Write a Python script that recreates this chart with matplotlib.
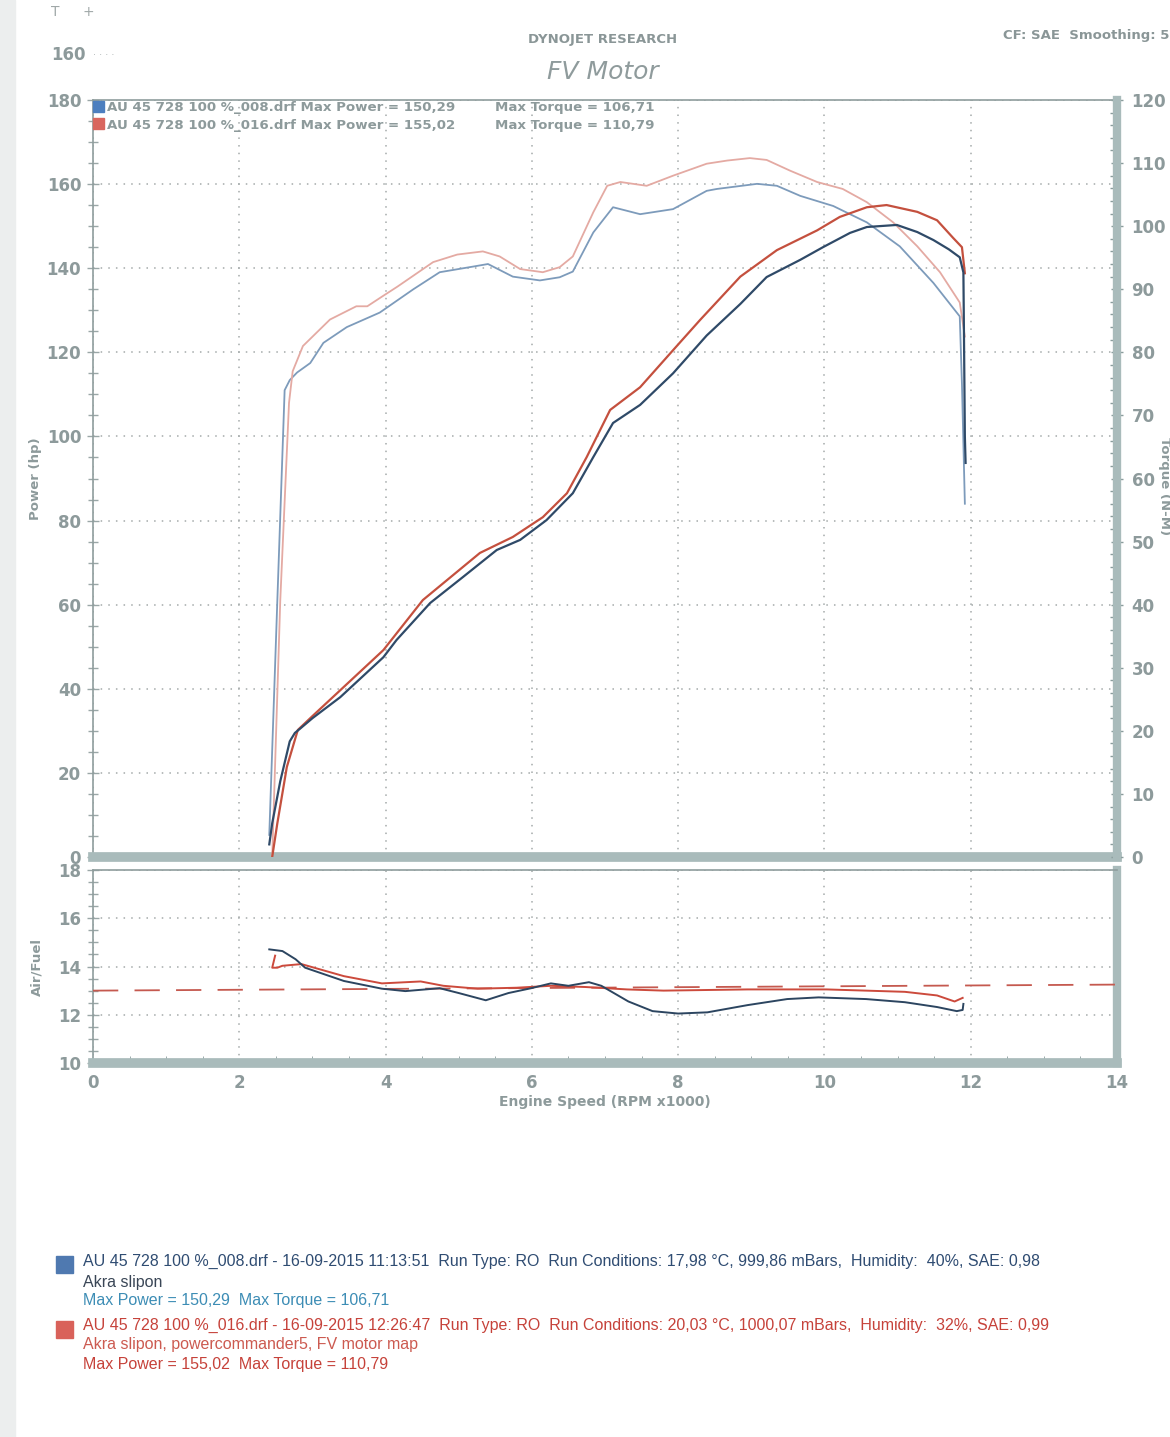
import matplotlib
matplotlib.use("Agg")
import matplotlib.pyplot as plt
from matplotlib.patches import Rectangle
from matplotlib.ticker import MultipleLocator

# ---------------- data ----------------
blue_pw_rpm = [2.41, 2.45, 2.56, 2.69, 2.76, 2.83, 3.0, 3.38, 3.97, 4.15, 4.61, 5.06, 5.52, 5.84, 6.2,
               6.56, 6.84, 7.11, 7.48, 7.93, 8.39, 8.85, 9.21, 9.67, 9.98, 10.35, 10.58, 10.99,
               11.27, 11.49, 11.7, 11.85, 11.9, 11.91, 11.92, 11.93]
blue_pw = [3, 8, 18, 27.5, 29.5, 30.5, 33, 38, 47.5, 51.6, 60.4, 66.6, 73, 75.4, 80.1,
           86.5, 95.1, 103.2, 107.5, 115, 124, 131.5, 137.9, 142, 145, 148.4, 149.8, 150.29,
           148.6, 146.7, 144.5, 142.6, 139, 120, 100, 93.7]

red_pw_rpm = [2.45, 2.52, 2.65, 2.8, 3.0, 3.34, 3.97, 4.51, 5.29, 5.74, 6.15, 6.48, 6.75, 7.07,
              7.48, 7.93, 8.30, 8.85, 9.35, 9.9, 10.21, 10.58, 10.85, 11.27, 11.54, 11.76,
              11.88, 11.92]
red_pw = [0, 8, 21.4, 30.2, 33.5, 39, 49.2, 61.1, 72.3, 76.1, 80.8, 86.5, 95.1, 106.3,
          111.7, 120.5, 127.7, 138, 144.3, 149, 152.2, 154.5, 155.02, 153.4, 151.4, 147.2,
          145, 138.8]

blue_tq_rpm = [2.41, 2.52, 2.62, 2.69, 2.79, 2.97, 3.15, 3.47, 3.92, 4.38, 4.74, 5.2, 5.4, 5.74,
               6.11, 6.38, 6.56, 6.84, 7.11, 7.48, 7.93, 8.39, 8.53, 9.08, 9.35, 9.67, 10.12,
               10.58, 11.03, 11.49, 11.85, 11.88, 11.92]
blue_tq = [3.5, 40.6, 74, 75.6, 76.8, 78.3, 81.5, 84, 86.3, 90, 92.7, 93.6, 94, 92,
           91.4, 91.9, 92.8, 99, 103, 101.9, 102.7, 105.6, 105.9, 106.71, 106.4, 104.8, 103.2,
           100.6, 96.8, 91, 85.7, 75, 56]

red_tq_rpm = [2.45, 2.56, 2.68, 2.73, 2.87, 3.24, 3.6, 3.75, 3.96, 4.16, 4.65, 4.98, 5.33, 5.56,
              5.84, 6.15, 6.38, 6.56, 6.84, 7.03, 7.21, 7.57, 7.93, 8.39, 8.67, 8.98, 9.21,
              9.53, 9.9, 10.25, 10.58, 10.94, 11.27, 11.58, 11.85, 11.92]
red_tq = [0, 40.6, 72, 77, 81, 85.2, 87.3, 87.3, 88.9, 90.4, 94.3, 95.5, 96, 95.2,
          93.2, 92.7, 93.5, 95.2, 102.2, 106.4, 107, 106.4, 108, 109.9, 110.4, 110.79, 110.5,
          108.8, 107, 105.9, 103.8, 100.6, 96.8, 92.7, 87.9, 82.5]

blue_af_rpm = [2.41, 2.59, 2.77, 2.9, 3.43, 3.95, 4.27, 4.74, 5.0, 5.37, 5.68, 5.99, 6.26, 6.5,
               6.78, 6.95, 7.32, 7.65, 8.0, 8.4, 8.95, 9.49, 9.92, 10.57, 11.1, 11.54, 11.81,
               11.89, 11.9]
blue_af = [14.71, 14.64, 14.3, 13.95, 13.4, 13.08, 12.98, 13.1, 12.9, 12.6, 12.9, 13.1, 13.3, 13.2,
           13.35, 13.2, 12.55, 12.15, 12.05, 12.1, 12.4, 12.65, 12.72, 12.65, 12.52, 12.32, 12.15,
           12.2, 12.45]

red_af_rpm = [2.49, 2.47, 2.45, 2.52, 2.59, 2.85, 3.43, 3.95, 4.48, 4.79, 5.26, 5.79, 6.26, 6.73,
              7.3, 7.8, 8.95, 10.03, 11.1, 11.54, 11.78, 11.89]
red_af = [14.45, 14.2, 13.95, 13.95, 14.03, 14.1, 13.6, 13.3, 13.38, 13.2, 13.08, 13.12, 13.2, 13.15,
          13.05, 13.0, 13.05, 13.05, 12.95, 12.8, 12.55, 12.7]

target_af_rpm = [0, 14]
target_af = [13.0, 13.25]

power_ticks = list(range(0, 181, 20))
torque_ticks = list(range(0, 121, 10))
af_ticks = [10, 12, 14, 16, 18]
rpm_ticks = list(range(0, 15, 2))

# ---------------- style ----------------
W, H = 1170, 1437
GRAY = "#9aa7a7"
TXT = "#8d9a9b"
BAND = "#a9bbbb"
C_BPW = "#2f4a68"
C_BTQ = "#7d9bbb"
C_RPW = "#c4503e"
C_RTQ = "#e4aaa3"

def fx(px):
    return px / W

def fy(py):
    return 1 - py / H

fig = plt.figure(figsize=(W / 100, H / 100), dpi=100)
fig.patch.set_facecolor("white")

# scan edge
fig.patches.append(Rectangle((0, 0), fx(15), 1, transform=fig.transFigure,
                             color="#eceeee", zorder=0))

AX_L, AX_R = 93, 1117
AX_W = AX_R - AX_L

# ---------------- main chart ----------------
ax = fig.add_axes([fx(AX_L), fy(857), fx(AX_R) - fx(AX_L), fy(100) - fy(857)])
ax.set_xlim(0, 14)
ax.set_ylim(0, 180)
ax.set_xticks(rpm_ticks)
ax.set_yticks(power_ticks)
ax.yaxis.set_minor_locator(MultipleLocator(5))
ax.tick_params(axis="x", length=0, labelbottom=False)
ax.tick_params(axis="y", which="major", direction="inout", length=9, width=1, color=GRAY,
               labelsize=12, labelcolor=TXT, pad=4)
ax.tick_params(axis="y", which="minor", direction="inout", length=7, width=1, color=GRAY)
for lab in ax.get_yticklabels():
    lab.set_fontweight("bold")
ax.grid(True, which="major", linestyle=(0, (1, 4)), color="#a4aaaa", lw=1.1)
ax.spines["top"].set_color("#8f9d9d")
ax.spines["top"].set_linewidth(1.2)
ax.spines["left"].set_color("#8f9d9d")
ax.spines["left"].set_linewidth(1.2)
ax.spines["bottom"].set_color(BAND)
ax.spines["bottom"].set_linewidth(7)
ax.spines["right"].set_visible(False)
ax.set_ylabel("Power (hp)", color=TXT, fontsize=9.5, fontweight="bold")
ax.yaxis.set_label_coords((42 - AX_L) / AX_W, 0.5)

axr = ax.twinx()
axr.set_ylim(0, 120)
axr.set_yticks(torque_ticks)
axr.yaxis.set_minor_locator(MultipleLocator(2))
axr.tick_params(axis="y", which="major", direction="inout", length=9, width=1, color="#8a9c9c",
                labelsize=12, labelcolor=TXT, pad=6)
axr.tick_params(axis="y", which="minor", direction="in", length=5, width=1, color="#8a9c9c")
for lab in axr.get_yticklabels():
    lab.set_fontweight("bold")
for s in ["top", "left", "bottom"]:
    axr.spines[s].set_visible(False)
axr.spines["right"].set_color(BAND)
axr.spines["right"].set_linewidth(6)
axr.set_ylabel("Torque (N-M)", color=TXT, fontsize=9.5, fontweight="bold",
               rotation=-90, va="center")
axr.yaxis.set_label_coords((1164 - AX_L) / AX_W, 0.49)

axr.plot(blue_tq_rpm, blue_tq, color=C_BTQ, lw=1.3, zorder=3)
axr.plot(red_tq_rpm, red_tq, color=C_RTQ, lw=1.3, zorder=3)
axr.plot(red_pw_rpm, [v * 120 / 180 for v in red_pw], color=C_RPW, lw=1.6, zorder=4)
axr.plot(blue_pw_rpm, [v * 120 / 180 for v in blue_pw], color=C_BPW, lw=1.6, zorder=5)

# legend inside chart
fig.patches.append(Rectangle((fx(93), fy(112)), fx(11), 11 / H, transform=fig.transFigure,
                             color="#4d7fbf", zorder=10))
fig.patches.append(Rectangle((fx(93), fy(129)), fx(11), 11 / H, transform=fig.transFigure,
                             color="#d9665e", zorder=10))
leg_kw = dict(color=TXT, fontsize=9.6, fontweight="bold", va="center", ha="left")
fig.text(fx(107), fy(108), "AU 45 728 100 %_008.drf Max Power = 150,29", **leg_kw)
fig.text(fx(495), fy(108), "Max Torque = 106,71", **leg_kw)
fig.text(fx(107), fy(125), "AU 45 728 100 %_016.drf Max Power = 155,02", **leg_kw)
fig.text(fx(495), fy(125), "Max Torque = 110,79", **leg_kw)

# ---------------- air/fuel chart ----------------
ax2 = fig.add_axes([fx(AX_L), fy(1063), fx(AX_R) - fx(AX_L), fy(870) - fy(1063)])
ax2.set_xlim(0, 14)
ax2.set_ylim(10, 18)
ax2.set_xticks(rpm_ticks)
ax2.set_yticks(af_ticks)
ax2.xaxis.set_minor_locator(MultipleLocator(0.5))
ax2.yaxis.set_minor_locator(MultipleLocator(0.5))
ax2.tick_params(axis="x", which="major", length=0, labelsize=12, labelcolor=TXT, pad=8)
ax2.tick_params(axis="x", which="minor", direction="in", length=5, color="#8a9c9c")
ax2.tick_params(axis="y", which="major", direction="inout", length=9, width=1, color=GRAY,
                labelsize=12, labelcolor=TXT, pad=4)
ax2.tick_params(axis="y", which="minor", direction="inout", length=7, width=1, color=GRAY)
for lab in ax2.get_xticklabels() + ax2.get_yticklabels():
    lab.set_fontweight("bold")
ax2.grid(True, which="major", linestyle=(0, (1, 4)), color="#a4aaaa", lw=1.1)
ax2.spines["top"].set_color("#8f9d9d")
ax2.spines["top"].set_linewidth(1.2)
ax2.spines["left"].set_color("#8f9d9d")
ax2.spines["left"].set_linewidth(1.2)
ax2.spines["bottom"].set_color(BAND)
ax2.spines["bottom"].set_linewidth(7)
ax2.spines["right"].set_color(BAND)
ax2.spines["right"].set_linewidth(6)
ax2.set_ylabel("Air/Fuel", color=TXT, fontsize=9.5, fontweight="bold")
ax2.yaxis.set_label_coords((43 - AX_L) / AX_W, 0.5)
ax2.set_xlabel("Engine Speed (RPM x1000)", color=TXT, fontsize=10, fontweight="bold", labelpad=2)

ax2.plot(target_af_rpm, target_af, color="#c5594f", lw=1.3, dashes=(14, 9), zorder=3)
ax2.plot(red_af_rpm, red_af, color="#cc4a3c", lw=1.4, zorder=4)
ax2.plot(blue_af_rpm, blue_af, color="#2c4560", lw=1.4, zorder=5)

# ---------------- header texts ----------------
fig.text(fx(603), fy(40), "DYNOJET RESEARCH", color="#8a9697", fontsize=9.5, fontweight="bold",
         ha="center", va="center")
fig.text(fx(603), fy(72), "FV Motor", color="#8f9b9c", fontsize=18, style="italic",
         ha="center", va="center")
fig.text(fx(1003), fy(36), "CF: SAE  Smoothing: 5", color="#8a9697", fontsize=9.5,
         fontweight="bold", ha="left", va="center")
fig.text(fx(68), fy(55), "160", color=TXT, fontsize=12, fontweight="bold", ha="center", va="center")
fig.text(fx(104), fy(55), "· · · ·", color="#b0b6b6", fontsize=7, ha="center", va="center")
fig.text(fx(55), fy(12), "T", color="#a0a8a8", fontsize=10, ha="center", va="center")
fig.text(fx(88), fy(12), "+", color="#a0a8a8", fontsize=10, ha="center", va="center")

# ---------------- run info texts ----------------
NARROW = ["Liberation Sans Narrow", "Liberation Sans", "DejaVu Sans"]
fig.patches.append(Rectangle((fx(56), fy(1273)), fx(17), 17 / H, transform=fig.transFigure,
                             color="#4f79b0", zorder=10))
fig.patches.append(Rectangle((fx(56), fy(1338)), fx(17), 17 / H, transform=fig.transFigure,
                             color="#d9625a", zorder=10))
info_kw = dict(fontsize=11.5, family=NARROW, ha="left", va="center")
fig.text(fx(83), fy(1261), "AU 45 728 100 %_008.drf - 16-09-2015 11:13:51  Run Type: RO  "
         "Run Conditions: 17,98 °C, 999,86 mBars,  Humidity:  40%, SAE: 0,98",
         color="#2f4c72", **info_kw)
fig.text(fx(83), fy(1282), "Akra slipon", color="#3a4656", **info_kw)
fig.text(fx(83), fy(1301), "Max Power = 150,29  Max Torque = 106,71", color="#3d8db5", **info_kw)
fig.text(fx(83), fy(1325), "AU 45 728 100 %_016.drf - 16-09-2015 12:26:47  Run Type: RO  "
         "Run Conditions: 20,03 °C, 1000,07 mBars,  Humidity:  32%, SAE: 0,99",
         color="#c6423a", **info_kw)
fig.text(fx(83), fy(1345), "Akra slipon, powercommander5, FV motor map", color="#cc5a50", **info_kw)
fig.text(fx(83), fy(1365), "Max Power = 155,02  Max Torque = 110,79", color="#c6423a", **info_kw)

fig.savefig("out.png", dpi=100, facecolor="white")
